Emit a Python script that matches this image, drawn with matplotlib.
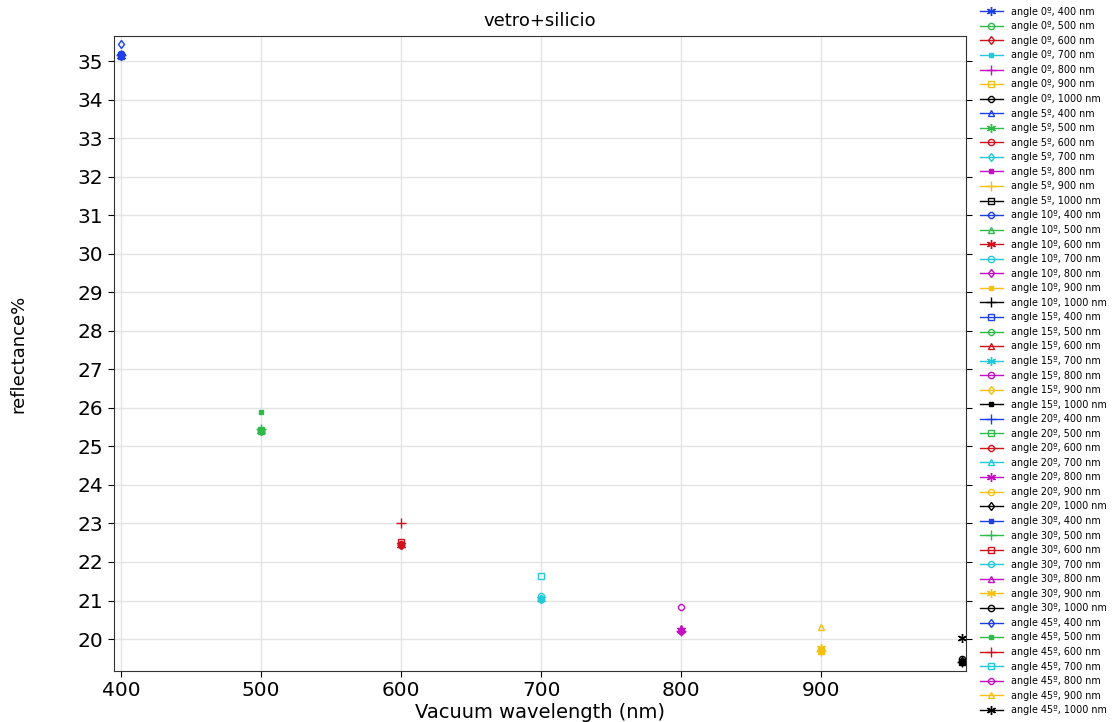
import matplotlib
matplotlib.use("Agg")
import matplotlib.pyplot as plt

angles = [0, 5, 10, 15, 20, 30, 45]
wavelengths = [400, 500, 600, 700, 800, 900, 1000]

# reflectance (%) per angle, one value per wavelength
refl_0 = [35.14, 25.40, 22.44, 21.03, 20.20, 19.69, 19.40]
refl_5 = [35.14, 25.40, 22.44, 21.03, 20.20, 19.69, 19.40]
refl_10 = [35.15, 25.41, 22.45, 21.04, 20.21, 19.70, 19.41]
refl_15 = [35.15, 25.41, 22.46, 21.05, 20.22, 19.71, 19.42]
refl_20 = [35.16, 25.42, 22.47, 21.06, 20.23, 19.72, 19.43]
refl_30 = [35.20, 25.46, 22.53, 21.12, 20.29, 19.76, 19.48]
refl_45 = [35.44, 25.89, 23.00, 21.63, 20.82, 20.31, 20.02]
reflectance = [refl_0, refl_5, refl_10, refl_15, refl_20, refl_30, refl_45]

colors = ["#1f3fe6", "#2fba4a", "#d0121c", "#22c9d6", "#c210c2", "#f5c012", "#000000"]
# marker cycle: (marker, filled, size)
marker_cycle = [
    ((6, 2, 0), True, 6.5),
    ("o", False, 4.5),
    ("d", False, 4.5),
    ("s", True, 3.2),
    ("+", True, 6.5),
    ("s", False, 5),
    ("8", False, 5),
    ("^", False, 5),
]

fig = plt.figure(figsize=(11.16, 7.22), dpi=100)
ax = fig.add_axes([0.102, 0.0706, 0.764, 0.8794])

k = 0
for a, vals in zip(angles, reflectance):
    for j, (wl, r) in enumerate(zip(wavelengths, vals)):
        m, filled, ms = marker_cycle[k % len(marker_cycle)]
        c = colors[j]
        ax.plot([wl], [r], linestyle="-", linewidth=1.0, color=c,
                marker=m, markersize=ms,
                markerfacecolor=c if filled else "none",
                markeredgecolor=c, markeredgewidth=1.0,
                label=f"angle {a}º, {wl} nm")
        k += 1

ax.set_xlim(395, 1003.5)
ax.set_ylim(19.17, 35.65)
ax.set_xticks([400, 500, 600, 700, 800, 900])
ax.set_yticks(range(20, 36))
ax.grid(True, color="#e4e4e4", linewidth=1.0)
ax.set_axisbelow(True)
ax.tick_params(axis="both", labelsize=14.5, direction="out", length=4)
ax.tick_params(axis="y", right=True)
for s in ax.spines.values():
    s.set_color("#333333")

ax.set_title("vetro+silicio", fontsize=13, pad=7)
ax.set_xlabel("Vacuum wavelength (nm)", fontsize=14, labelpad=2)
ax.set_ylabel("reflectance%", fontsize=13, labelpad=36)

fig.legend(loc="upper left", bbox_to_anchor=(0.872, 1.0), frameon=False,
           fontsize=6.9, labelspacing=0.475, handlelength=2.4,
           handletextpad=0.8, borderaxespad=0.3, borderpad=0.4)

fig.savefig("out.png", dpi=100)
